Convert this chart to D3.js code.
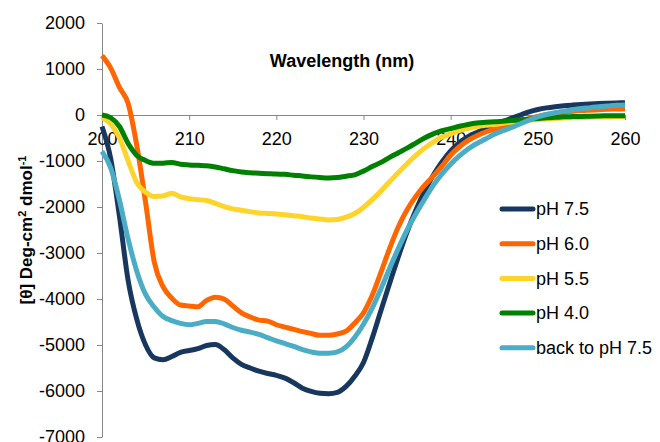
<!DOCTYPE html>
<html>
<head>
<meta charset="utf-8">
<script src="https://cdn.jsdelivr.net/npm/d3@7"></script>
<style>
  body { margin: 0; background: #fff; }
  text { font-family: "Liberation Sans", Arial, sans-serif; }
</style>
</head>
<body>
<div id="chart"></div>
<script>
// --- data ---
const wavelength = [200,201,202,203,204,205,206,207,208,209,210,211,212,213,214,215,216,217,218,219,
  220,221,222,223,224,225,226,227,228,229,230,231,232,233,234,235,236,237,238,239,
  240,241,242,243,244,245,246,247,248,249,250,251,252,253,254,255,256,257,258,259,260];

const ph75 = [-250,-950,-2200,-3600,-4450,-5000,-5280,-5320,-5250,-5160,-5120,-5080,-5010,-4990,-5100,-5280,-5420,-5500,-5570,-5620,
  -5660,-5720,-5820,-5940,-6010,-6050,-6060,-6030,-5900,-5680,-5380,-4850,-4250,-3660,-3080,-2540,-2070,-1660,-1310,-1020,
  -780,-600,-470,-380,-300,-215,-140,-70,0,70,120,155,180,200,215,228,238,248,256,262,268];

const ph60 = [1290,1020,600,250,-675,-1900,-3200,-3730,-3980,-4130,-4150,-4170,-4030,-3960,-4000,-4150,-4300,-4390,-4460,-4480,
  -4560,-4610,-4660,-4710,-4750,-4790,-4790,-4760,-4700,-4520,-4300,-3920,-3420,-2900,-2430,-2060,-1770,-1530,-1330,-1110,
  -870,-690,-550,-450,-370,-310,-250,-190,-130,-80,-30,10,40,60,80,95,105,115,125,130,135];

const ph55 = [-50,-200,-500,-1000,-1475,-1680,-1770,-1760,-1700,-1780,-1820,-1840,-1860,-1920,-1990,-2040,-2070,-2100,-2130,-2140,
  -2150,-2170,-2190,-2210,-2240,-2260,-2280,-2270,-2220,-2140,-2010,-1840,-1650,-1450,-1250,-1060,-880,-720,-590,-480,
  -410,-340,-290,-250,-225,-205,-180,-155,-135,-115,-100,-85,-75,-65,-60,-55,-50,-45,-42,-40,-38];

const ph40 = [0,-60,-250,-620,-880,-990,-1050,-1050,-1030,-1070,-1085,-1095,-1105,-1130,-1170,-1210,-1240,-1255,-1265,-1275,
  -1285,-1290,-1310,-1325,-1345,-1360,-1370,-1360,-1330,-1300,-1220,-1120,-1030,-920,-820,-720,-610,-500,-410,-340,
  -295,-245,-205,-175,-160,-148,-135,-120,-105,-90,-75,-60,-50,-40,-35,-30,-25,-20,-18,-15,-15];

const back75 = [-790,-1150,-1850,-2700,-3400,-3900,-4180,-4380,-4470,-4530,-4560,-4530,-4490,-4490,-4540,-4620,-4680,-4720,-4770,-4840,
  -4910,-4970,-5030,-5100,-5150,-5180,-5180,-5150,-5040,-4830,-4550,-4200,-3780,-3330,-2900,-2500,-2150,-1830,-1530,-1280,
  -1070,-890,-740,-620,-520,-420,-340,-270,-190,-110,-40,10,50,85,115,140,160,180,195,210,220];

const xTicks = [200, 210, 220, 230, 240, 250, 260];
const yTicks = [2000, 1000, 0, -1000, -2000, -3000, -4000, -5000, -6000, -7000];

const series = [
  { name: "pH 7.5",         values: ph75,   color: "#17375e" },
  { name: "pH 6.0",         values: ph60,   color: "#ff6600" },
  { name: "pH 5.5",         values: ph55,   color: "#ffd42a" },
  { name: "pH 4.0",         values: ph40,   color: "#008000" },
  { name: "back to pH 7.5", values: back75, color: "#4bacc6" }
];

// --- sizing ---
const W = 660, H = 442;
const plot = { left: 102, right: 625, top: 23, bottom: 437 };
const axisColor = "#868686";

const svg = d3.select("#chart").append("svg")
  .attr("width", W)
  .attr("height", H);

const x = d3.scaleLinear().domain([200, 260]).range([plot.left, plot.right]);
const y = d3.scaleLinear().domain([-7000, 2000]).range([plot.bottom, plot.top]);

// plain numbers, hyphen minus, no thousands separator
const plain = d => String(d);

// y axis
const gy = svg.append("g")
  .attr("transform", `translate(${plot.left},0)`)
  .call(d3.axisLeft(y).tickValues(yTicks).tickFormat(plain)
    .tickSize(5).tickSizeOuter(0).tickPadding(12));

// x axis sits on zero
const gx = svg.append("g")
  .attr("transform", `translate(0,${y(0)})`)
  .call(d3.axisBottom(x).tickValues(xTicks).tickFormat(plain)
    .tickSize(5).tickSizeOuter(0).tickPadding(12));

[gx, gy].forEach(g => {
  g.selectAll("path, line").attr("stroke", axisColor).attr("stroke-width", 1);
  g.selectAll("text")
    .attr("fill", "#000")
    .style("font-size", "18px")
    .style("font-family", "'Liberation Sans', Arial, sans-serif");
});

// axis titles
svg.append("text")
  .attr("x", 342)
  .attr("y", 67)
  .attr("text-anchor", "middle")
  .style("font-size", "18px")
  .style("font-weight", "bold")
  .text("Wavelength (nm)");

const yl = svg.append("text")
  .attr("transform", `translate(32,${(plot.top + plot.bottom) / 2}) rotate(-90)`)
  .attr("text-anchor", "middle")
  .style("font-size", "17px")
  .style("font-weight", "bold");
yl.append("tspan").text("[θ] Deg-cm");
yl.append("tspan").attr("dy", -6).style("font-size", "11px").text("2");
yl.append("tspan").attr("dy", 6).text(" dmol");
yl.append("tspan").attr("dy", -6).style("font-size", "11px").text("-1");

// lines
const line = d3.line()
  .x((d, i) => x(wavelength[i]))
  .y(d => y(d))
  .curve(d3.curveMonotoneX);

svg.selectAll(".series")
  .data(series)
  .enter()
  .append("path")
  .attr("class", "series")
  .attr("fill", "none")
  .attr("stroke", d => d.color)
  .attr("stroke-width", 5)
  .attr("stroke-linejoin", "round")
  .attr("d", d => line(d.values));

// legend
const legend = svg.append("g").attr("transform", "translate(500,209)");
const row = legend.selectAll("g")
  .data(series)
  .enter()
  .append("g")
  .attr("transform", (d, i) => `translate(0,${i * 34.7})`);

row.append("line")
  .attr("x1", 2).attr("x2", 33)
  .attr("stroke", d => d.color)
  .attr("stroke-width", 5)
  .attr("stroke-linecap", "round");

row.append("text")
  .attr("x", 36)
  .attr("dy", "0.35em")
  .style("font-size", "18px")
  .text(d => d.name);
</script>
</body>
</html>
